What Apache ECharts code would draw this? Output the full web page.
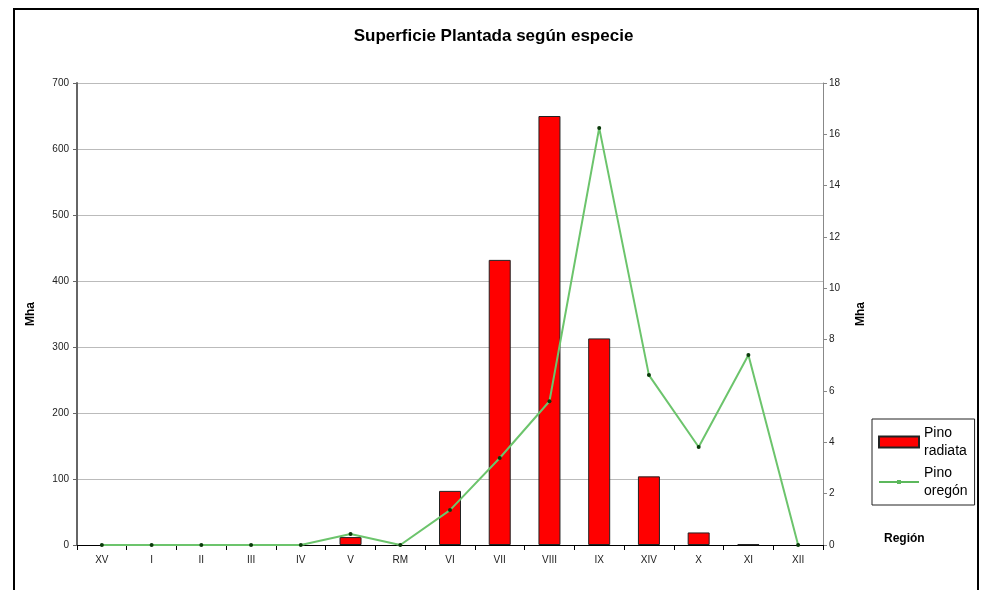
<!DOCTYPE html>
<html>
<head>
<meta charset="utf-8">
<script src="https://cdn.jsdelivr.net/npm/echarts@6/dist/echarts.min.js"></script>
<style>
  html, body { margin: 0; padding: 0; background: #fff; }
  #chart { width: 987px; height: 590px; }
</style>
</head>
<body>
<div id="chart"></div>
<script>
const regions = ['XV', 'I', 'II', 'III', 'IV', 'V', 'RM', 'VI', 'VII', 'VIII', 'IX', 'XIV', 'X', 'XI', 'XII']
// Mha, eje izquierdo
const pinoRadiata = [0, 0, 0, 0, 0, 12, 0, 82, 432, 650, 313, 104, 19, 1, 0]
// Mha, eje derecho
const pinoOregon = [0, 0, 0, 0, 0, 0.43, 0, 1.36, 3.39, 5.6, 16.25, 6.62, 3.82, 7.4, 0]

const FONT = '"Liberation Sans", Arial, sans-serif'
const chart = echarts.init(document.getElementById('chart'))

chart.setOption({
  backgroundColor: '#fff',
  animation: false,
  textStyle: { fontFamily: FONT },
  title: {
    text: 'Superficie Plantada según especie', left: 'center', top: 23,
    textStyle: { fontSize: 17, fontWeight: 'bold', color: '#000', fontFamily: FONT }
  },
  grid: { left: 77, right: 164, top: 83, bottom: 45 },
  legend: {
    orient: 'vertical', left: 872, top: 419,
    padding: [5, 7, 5, 6], itemGap: 4,
    borderColor: '#222', borderWidth: 1, backgroundColor: '#fff',
    itemWidth: 40, itemHeight: 11,
    formatter: n => n.replace(' ', '\n'),
    textStyle: { fontSize: 14, color: '#000', lineHeight: 18, fontFamily: FONT },
    data: [
      { name: 'Pino radiata', icon: 'rect' },
      {
        name: 'Pino oregón',
        icon: 'path://M0,9 L40,9 L40,11 L0,11 Z M18,8 L22,8 L22,12 L18,12 Z',
        itemStyle: { color: '#5cb85c' }
      }
    ]
  },
  graphic: [
    { type: 'rect', shape: { x: 14, y: 9, width: 964, height: 600 }, style: { fill: 'none', stroke: '#000', lineWidth: 2 }, silent: true },
    { type: 'text', left: 884, top: 533, style: { text: 'Región', font: 'bold 12px ' + FONT, fill: '#000' } }
  ],
  xAxis: {
    type: 'category', data: regions, boundaryGap: true,
    axisLine: { lineStyle: { color: '#000', width: 1 } },
    axisTick: { show: true, length: 5, lineStyle: { color: '#000' } },
    axisLabel: { fontSize: 10, color: '#222', margin: 10 }
  },
  yAxis: [
    {
      type: 'value', min: 0, max: 700, interval: 100,
      name: 'Mha', nameLocation: 'middle', nameGap: 40,
      nameTextStyle: { fontSize: 12, fontWeight: 'bold', color: '#000' },
      axisLine: { show: true, lineStyle: { color: '#666', width: 2 } },
      axisTick: { show: true, length: 4, lineStyle: { color: '#666' } },
      axisLabel: { fontSize: 10, color: '#222', margin: 8 },
      splitLine: { lineStyle: { color: '#bbb', width: 1 } }
    },
    {
      type: 'value', min: 0, max: 18, interval: 2, position: 'right',
      name: 'Mha', nameLocation: 'middle', nameGap: 32,
      nameTextStyle: { fontSize: 12, fontWeight: 'bold', color: '#000' },
      axisLine: { show: true, lineStyle: { color: '#888', width: 1 } },
      axisTick: { show: true, length: 4, lineStyle: { color: '#888' } },
      axisLabel: { fontSize: 10, color: '#222', margin: 6 },
      splitLine: { show: false }
    }
  ],
  series: [
    {
      name: 'Pino radiata', type: 'bar', yAxisIndex: 0,
      data: pinoRadiata.map(v => (v === 0 ? '-' : v)),
      barWidth: 22,
      itemStyle: { color: '#ff0000', borderColor: '#222', borderWidth: 1 }
    },
    {
      name: 'Pino oregón', type: 'line', yAxisIndex: 1, data: pinoOregon,
      symbol: 'circle', symbolSize: 4,
      lineStyle: { color: '#6cc46c', width: 2 },
      itemStyle: { color: '#0a3a0a', borderWidth: 0 }
    }
  ]
})
</script>
</body>
</html>
